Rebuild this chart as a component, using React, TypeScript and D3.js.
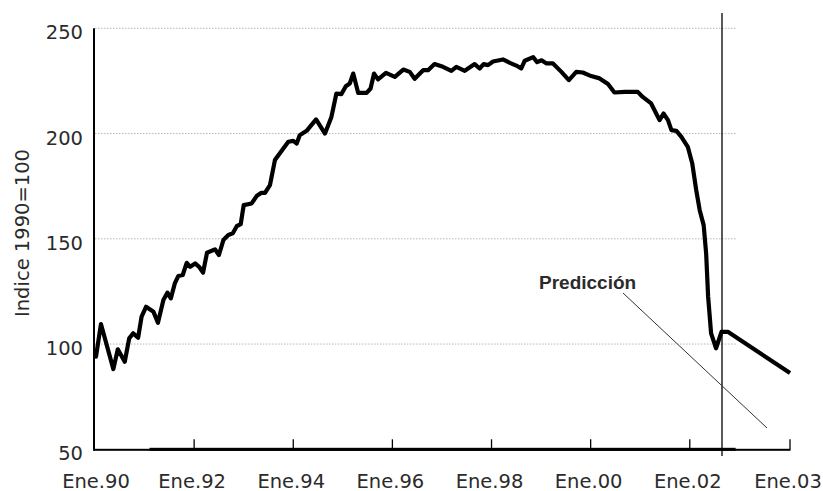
import React from "react";
import * as d3 from "d3";

// ---- data ----
const histYears = [1990.02,1990.12,1990.37,1990.46,1990.60,1990.69,1990.77,1990.87,1990.94,1991.03,1991.18,1991.27,1991.38,1991.46,1991.53,1991.61,1991.68,1991.77,1991.85,1991.92,1992.02,1992.10,1992.18,1992.26,1992.42,1992.50,1992.59,1992.69,1992.78,1992.86,1992.94,1993.00,1993.16,1993.26,1993.35,1993.43,1993.53,1993.63,1993.70,1993.80,1993.90,1994.00,1994.07,1994.13,1994.27,1994.46,1994.64,1994.77,1994.87,1994.97,1995.06,1995.14,1995.21,1995.31,1995.48,1995.56,1995.63,1995.71,1995.87,1996.05,1996.22,1996.35,1996.45,1996.62,1996.72,1996.85,1997.02,1997.19,1997.29,1997.46,1997.66,1997.76,1997.84,1997.93,1998.03,1998.23,1998.37,1998.50,1998.60,1998.67,1998.84,1998.92,1999.01,1999.11,1999.24,1999.41,1999.56,1999.71,1999.84,2000.01,2000.18,2000.35,2000.48,2000.69,2000.95,2001.05,2001.22,2001.39,2001.47,2001.56,2001.63,2001.73,2001.83,2001.96,2002.05,2002.13,2002.20,2002.28,2002.33,2002.37,2002.43,2002.53,2002.64];
const histValues = [94.0,109.5,88.1,97.5,91.6,102.7,105.1,103.0,113.0,117.7,115.3,110.1,120.9,124.4,121.7,128.8,132.3,132.8,138.6,136.7,138.3,136.7,133.9,143.4,145.0,142.3,149.4,151.8,152.6,156.0,157.0,166.0,166.8,170.3,171.8,171.8,175.5,187.4,189.7,192.9,196.1,196.5,195.3,199.2,201.3,206.7,200.0,207.9,219.0,218.7,222.5,223.8,228.5,219.3,219.3,221.4,228.5,225.7,228.8,226.9,230.4,229.3,226.0,230.1,230.1,233.0,231.7,229.8,231.7,229.8,233.0,230.9,233.0,232.5,234.2,235.2,233.6,232.3,230.9,234.6,236.3,233.9,234.8,233.3,233.3,229.3,225.4,229.3,229.0,227.3,226.2,223.5,219.5,219.8,219.8,217.4,214.3,206.4,209.5,206.4,201.6,201.3,198.4,193.7,185.8,173.1,163.6,156.5,143.1,122.5,105.1,98.0,105.8];

const predYears = [2002.64, 2002.68, 2003.0];
const predValues = [105.8, 105.8, 86.2];

const yTicks = [50, 100, 150, 200, 250];
const xTickYears = [1990, 1992, 1994, 1996, 1998, 2000, 2002, 2003];
const xTickLabels = ["Ene.90", "Ene.92", "Ene.94", "Ene.96", "Ene.98", "Ene.00", "Ene.02", "Ene.03"];

const cutYear = 2002.65; // start of the forecast
const plotEndYear = 2002.72;
const thickAxisStartYear = 1991.1;
const yLabel = "Indice 1990=100";
const annotationText = "Predicción";

// ---- layout ----
const W = 823;
const H = 491;

export default function App() {
  const x = d3.scaleLinear().domain([1990, cutYear, 2003]).range([95, 722, 790]);
  const y = d3.scaleLinear().domain([50, 250]).range([449.3, 28.3]);

  const line = d3
    .line<[number, number]>()
    .x((d) => x(d[0]))
    .y((d) => y(d[1]));

  const hist: [number, number][] = histYears.map((t, i) => [t, histValues[i]]);
  const pred: [number, number][] = predYears.map((t, i) => [t, predValues[i]]);

  const textColor = "#2b2b2b";
  const regFont = "'DejaVu Sans', sans-serif";
  const x0 = x(1990);
  const xEnd = x(plotEndYear);
  const y0 = y(50);
  const xLast = x(2003);
  const xThick = x(thickAxisStartYear);

  return (
    <svg
      width={W}
      height={H}
      style={{ position: "absolute", left: 0, top: 0, background: "#fff" }}
    >
      {/* gridlines */}
      {yTicks
        .filter((v) => v > 50)
        .map((v) => (
          <line
            key={"g" + v}
            x1={x0}
            x2={xEnd}
            y1={y(v)}
            y2={y(v)}
            stroke="#b5b5b5"
            strokeWidth={1}
            strokeDasharray="1.5,1.5"
          />
        ))}

      {/* y tick labels */}
      {yTicks.map((v) => (
        <text
          key={"yl" + v}
          x={83}
          y={y(v) + 11}
          textAnchor="end"
          fontFamily={regFont}
          fontSize={19.5}
          fill={textColor}
        >
          {v}
        </text>
      ))}

      {/* y axis label */}
      <text
        transform={`translate(29, 233) rotate(-90)`}
        textAnchor="middle"
        fontFamily={regFont}
        fontSize={19.5}
        fill={textColor}
      >
        {yLabel}
      </text>

      {/* x axis: thin base line + thicker middle section */}
      <rect x={x0 - 1} y={y0 - 0.5} width={xLast - x0 + 1.5} height={2} fill="#000" />
      <rect x={xThick} y={y0 - 1.5} width={xEnd - xThick} height={3} fill="#000" />
      {xTickYears
        .filter((t) => t > 1990)
        .map((t) => (
          <line
            key={"t" + t}
            x1={x(t)}
            x2={x(t)}
            y1={y0}
            y2={y0 - 10}
            stroke="#000"
            strokeWidth={1.3}
          />
        ))}
      {xTickYears.map((t, i) => (
        <text
          key={"xl" + t}
          x={x(t) - 2 + (t === 1990 ? 3 : 0)}
          y={487.5}
          textAnchor="middle"
          fontFamily={regFont}
          fontSize={19.5}
          fill={textColor}
        >
          {xTickLabels[i]}
        </text>
      ))}

      {/* y axis */}
      <rect x={93} y={y(250)} width={2} height={y0 - y(250) + 1.5} fill="#000" />

      {/* forecast divider */}
      <line x1={x(cutYear)} x2={x(cutYear)} y1={13} y2={456} stroke="#000" strokeWidth={1.3} />

      {/* annotation */}
      <line x1={623} y1={293} x2={767} y2={428} stroke="#333" strokeWidth={1} />
      <text
        x={539}
        y={288.5}
        fontFamily="'Liberation Sans', Arial, sans-serif"
        fontWeight="bold"
        fontSize={19}
        fill={textColor}
      >
        {annotationText}
      </text>

      {/* series */}
      <path
        d={line(hist) || ""}
        fill="none"
        stroke="#000"
        strokeWidth={4.2}
        strokeLinejoin="round"
        strokeLinecap="round"
      />
      <path
        d={line(pred) || ""}
        fill="none"
        stroke="#000"
        strokeWidth={4.2}
        strokeLinejoin="round"
        strokeLinecap="butt"
      />
    </svg>
  );
}
